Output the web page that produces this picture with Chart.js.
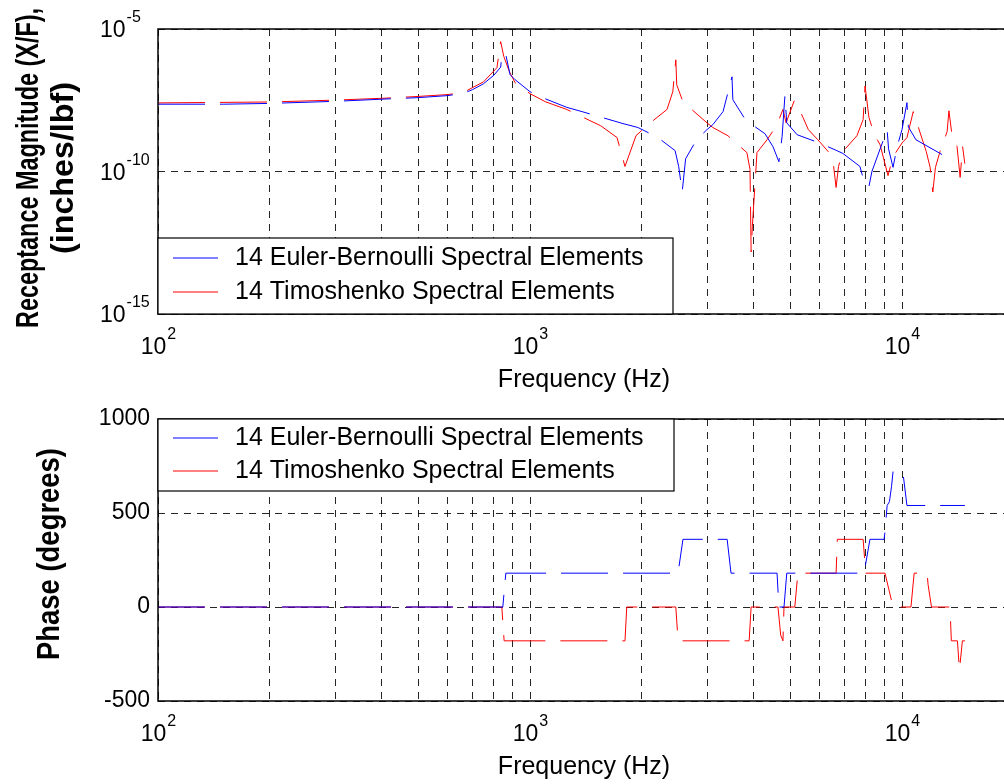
<!DOCTYPE html>
<html lang="en">
<head>
<meta charset="UTF-8">
<title>Receptance and Phase</title>
<script src="https://cdn.jsdelivr.net/npm/chart.js@4.4.0/dist/chart.umd.min.js"></script>
<style>
  html, body { margin: 0; padding: 0; background: #fff; overflow: hidden; width: 1004px; height: 784px; }
  canvas { position: absolute; left: 0; }
  #mag { top: 0; }
  #phase { top: 392px; }
</style>
</head>
<body>
<canvas id="mag" width="1024" height="392"></canvas>
<canvas id="phase" width="1024" height="392"></canvas>
<script>
// series labels
const labels = ['14 Euler-Bernoulli Spectral Elements', '14 Timoshenko Spectral Elements'];

// receptance magnitude, Euler-Bernoulli (Hz, inches/lbf)
const ebFreq = [100, 150, 200, 300, 400, 500, 600, 661, 700, 750, 800, 834, 841, 861, 884, 912, 1000, 1100, 1256, 1380, 1541, 1778, 1950, 2200, 2455, 2510, 2565, 2620, 2800, 2990, 3100, 3303, 3491, 3510, 3800, 4285, 4500, 4667, 4760, 4845, 4900, 5225, 6000, 6683, 6935, 7709, 7955, 8150, 8300, 9120, 9200, 9460, 9700, 10000, 10310, 10400, 10900, 13700];
const ebMag = [2.3e-8, 2.3e-8, 2.45e-8, 2.9e-8, 3.45e-8, 3.9e-8, 4.6e-8, 5.5e-8, 7.4e-8, 1.2e-7, 2.4e-7, 4.6e-7, 1.45e-6, 1.25e-6, 2.5e-7, 1.66e-7, 6.3e-8, 3.55e-8, 1.78e-8, 1.26e-8, 8.3e-9, 4.8e-9, 3.5e-9, 1.6e-9, 5.4e-10, 1.5e-10, 1.9e-11, 2.8e-10, 1.26e-9, 2.95e-9, 4.4e-9, 1.26e-8, 2.1e-7, 3.3e-8, 6.3e-9, 2.1e-9, 7.4e-10, 2.2e-10, 1.66e-9, 4.6e-8, 5.1e-9, 1.95e-9, 1.0e-9, 5.4e-10, 4.3e-10, 1.5e-10, 3.2e-11, 3.0e-11, 1.0e-10, 2.95e-9, 6.3e-10, 1.4e-10, 7.4e-10, 2.95e-9, 2.6e-8, 3.7e-9, 1.3e-9, 2.4e-10];

// receptance magnitude, Timoshenko
const tmFreq = [100, 200, 300, 400, 500, 600, 661, 750, 815, 834, 850, 880, 912, 1000, 1100, 1256, 1380, 1550, 1714, 1800, 1927, 2076, 2335, 2420, 2466, 2480, 2577, 2990, 3100, 3404, 3828, 3903, 3930, 3960, 4075, 4337, 4600, 4786, 4880, 5129, 5200, 5420, 5600, 5940, 6370, 6550, 6650, 6750, 6935, 7564, 7860, 7955, 8150, 8414, 8730, 9170, 9460, 10000, 10310, 10720, 11620, 11900, 12100, 12300, 12650, 13220, 13370, 13600, 14060, 14330, 14550, 14750];
const tmMag = [2.55e-8, 2.75e-8, 3.2e-8, 3.7e-8, 4.3e-8, 5.0e-8, 5.9e-8, 1.4e-7, 4.4e-7, 3.6e-6, 1.1e-6, 3.2e-7, 1.3e-7, 5.4e-8, 2.8e-8, 1.5e-8, 8.3e-9, 4.0e-9, 1.55e-9, 1.5e-10, 1.8e-9, 4.4e-9, 1.5e-8, 6.3e-8, 8.3e-7, 1.1e-7, 2.8e-8, 5.1e-9, 3.5e-9, 1.8e-9, 4.6e-10, 1.2e-10, 1.5e-13, 1.2e-12, 4.6e-10, 1.3e-9, 4.0e-9, 1.5e-8, 5.1e-9, 3.0e-8, 2.6e-8, 7.8e-9, 2.95e-9, 1.3e-9, 4.6e-10, 1.5e-10, 2.75e-11, 1.5e-10, 5.0e-10, 1.8e-9, 6.6e-9, 1.0e-7, 7.8e-9, 2.1e-9, 8.7e-10, 7.2e-11, 3.3e-10, 1.0e-9, 1.55e-9, 1.26e-8, 5.0e-10, 1.4e-10, 1.9e-11, 1.4e-10, 5.0e-10, 2.5e-9, 1.35e-8, 2.3e-9, 7.4e-10, 6.2e-11, 7.4e-10, 1.9e-10];

// phase (degrees)
const ebPhFreq = [100, 845, 861, 2500, 2577, 3388, 3470, 4614, 4667, 4817, 4900, 7906, 8200, 8950, 9000, 9120, 9250, 9370, 9460, 10050, 10310, 14760];
const ebPhase = [0, 0, 180, 180, 360, 360, 180, 180, 0, 0, 180, 180, 360, 360, 400, 540, 560, 640, 720, 720, 540, 540];
const tmPhFreq = [100, 840, 852, 1800, 1820, 2466, 2500, 3882, 3930, 4640, 4720, 4786, 4817, 5150, 5248, 6650, 6700, 7860, 7990, 9000, 9460, 10570, 10780, 11680, 11750, 12000, 13460, 13570, 14090, 14270, 14530, 14760];
const tmPhase = [0, 0, -180, -180, 0, 0, -180, -180, 0, 0, -150, -180, 0, 0, 180, 180, 360, 360, 180, 180, 0, 0, 180, 180, 120, 0, 0, -180, -180, -335, -180, -180];

// axis ticks
const xTicks = [100, 200, 300, 400, 500, 600, 700, 800, 900, 1000, 2000, 3000, 4000, 5000, 6000, 7000, 8000, 9000, 10000, 20000];
const xLabelTicks = [100, 1000, 10000];
const magTicks = [1e-15, 1e-10, 1e-5];
const phaseTicks = [-500, 0, 500, 1000];

const FONT = '"Liberation Sans", Arial, sans-serif';

function pts(xs, ys) {
  return xs.map((x, i) => ({ x: x, y: ys[i] }));
}

function series(xs, ys, i) {
  return {
    label: labels[i],
    data: pts(xs, ys),
    borderColor: i === 0 ? '#0000ff' : '#ff0000',
    borderWidth: 1,
    borderDash: [47, 15],
    pointRadius: 0,
    tension: 0,
    fill: false
  };
}

// draws "10" with a raised exponent
function pow10(ctx, x, y, exp, align) {
  ctx.font = '23px ' + FONT;
  const w1 = ctx.measureText('10').width;
  ctx.font = '16px ' + FONT;
  const w2 = ctx.measureText(exp).width;
  let left = x;
  if (align === 'center') left = x - (w1 + w2) / 2;
  ctx.textAlign = 'left';
  ctx.textBaseline = 'alphabetic';
  ctx.font = '23px ' + FONT;
  ctx.fillText('10', left, y);
  ctx.font = '16px ' + FONT;
  ctx.fillText(exp, left + w1 + 1, y - 15);
}

function yTitle(ctx, text, cx, cy, len) {
  ctx.save();
  ctx.font = 'bold 31px ' + FONT;
  const w = ctx.measureText(text).width;
  ctx.translate(cx, cy);
  ctx.rotate(-Math.PI / 2);
  ctx.scale(len / w, 1);
  ctx.textAlign = 'center';
  ctx.textBaseline = 'middle';
  ctx.fillStyle = '#000';
  ctx.fillText(text, 0, 0);
  ctx.restore();
}

const frame = {
  id: 'frame',
  afterDraw(chart, args, o) {
    const ctx = chart.ctx;
    const a = chart.chartArea;
    const xs = chart.scales.x, ys = chart.scales.y;
    ctx.save();
    ctx.strokeStyle = '#000';
    ctx.lineWidth = 1.5;
    ctx.strokeRect(a.left, a.top, a.right - a.left, a.bottom - a.top);
    ctx.fillStyle = '#000';

    // x tick labels
    xLabelTicks.forEach(v => {
      const exp = String(Math.round(Math.log10(v)));
      pow10(ctx, xs.getPixelForValue(v), a.bottom + 40, exp, 'center');
    });
    ctx.font = '25px ' + FONT;
    ctx.textAlign = 'center';
    ctx.textBaseline = 'alphabetic';
    ctx.fillText('Frequency (Hz)', 584, a.bottom + 73);

    // y tick labels
    if (o.logY) {
      magTicks.forEach(v => {
        const exp = String(Math.round(Math.log10(v)));
        pow10(ctx, 100, ys.getPixelForValue(v) + 8, exp, 'left');
      });
    } else {
      ctx.font = '23px ' + FONT;
      ctx.textAlign = 'right';
      ctx.textBaseline = 'middle';
      phaseTicks.forEach(v => ctx.fillText(String(v), 150, ys.getPixelForValue(v)));
    }

    // y titles
    o.titles.forEach(t => yTitle(ctx, t.text, t.x, t.y, t.len));

    // legend
    const L = o.legend;
    ctx.fillStyle = '#fff';
    ctx.fillRect(a.left, L.top, L.right - a.left, L.bottom - L.top);
    ctx.lineWidth = 1.2;
    ctx.strokeStyle = '#000';
    ctx.strokeRect(a.left, L.top, L.right - a.left, L.bottom - L.top);
    chart.data.datasets.forEach((ds, i) => {
      const y = L.rows[i];
      ctx.strokeStyle = ds.borderColor;
      ctx.lineWidth = 1;
      ctx.setLineDash([]);
      ctx.beginPath();
      ctx.moveTo(173, y);
      ctx.lineTo(218, y);
      ctx.stroke();
      ctx.fillStyle = '#000';
      ctx.font = '25px ' + FONT;
      ctx.textAlign = 'left';
      ctx.textBaseline = 'middle';
      ctx.fillText(ds.label, 235, y);
    });
    ctx.restore();
  }
};

function axis(type, min, max, ticks) {
  return {
    type: type,
    min: min,
    max: max,
    afterBuildTicks: s => { s.ticks = ticks.map(v => ({ value: v })); },
    ticks: { display: false },
    grid: { color: 'rgba(0,0,0,0.85)', lineWidth: 1, drawTicks: false },
    border: { display: false, dash: [7, 6] }
  };
}

function makeChart(id, datasets, yAxis, pad, frameOpts) {
  return new Chart(document.getElementById(id), {
    type: 'line',
    data: { datasets: datasets },
    options: {
      responsive: false,
      animation: false,
      events: [],
      layout: { padding: pad },
      plugins: { legend: { display: false }, tooltip: { enabled: false }, frame: frameOpts },
      scales: { x: axis('logarithmic', 100, 20000, xTicks), y: yAxis }
    },
    plugins: [frame]
  });
}

makeChart('mag',
  [series(ebFreq, ebMag, 0), series(tmFreq, tmMag, 1)],
  axis('logarithmic', 1e-15, 1e-5, magTicks),
  { left: 158, top: 29, right: 10, bottom: 78 },
  {
    logY: true,
    titles: [
      { text: 'Receptance Magnitude (X/F),', x: 29, y: 168, len: 320 },
      { text: '(inches/lbf)', x: 64, y: 168, len: 172 }
    ],
    legend: { top: 238, bottom: 314, right: 673, rows: [258, 292] }
  });

makeChart('phase',
  [series(ebPhFreq, ebPhase, 0), series(tmPhFreq, tmPhase, 1)],
  axis('linear', -500, 1000, phaseTicks),
  { left: 158, top: 27, right: 10, bottom: 83 },
  {
    logY: false,
    titles: [{ text: 'Phase (degrees)', x: 50, y: 162, len: 212 }],
    legend: { top: 27, bottom: 99, right: 674, rows: [46, 79] }
  });
</script>
</body>
</html>
